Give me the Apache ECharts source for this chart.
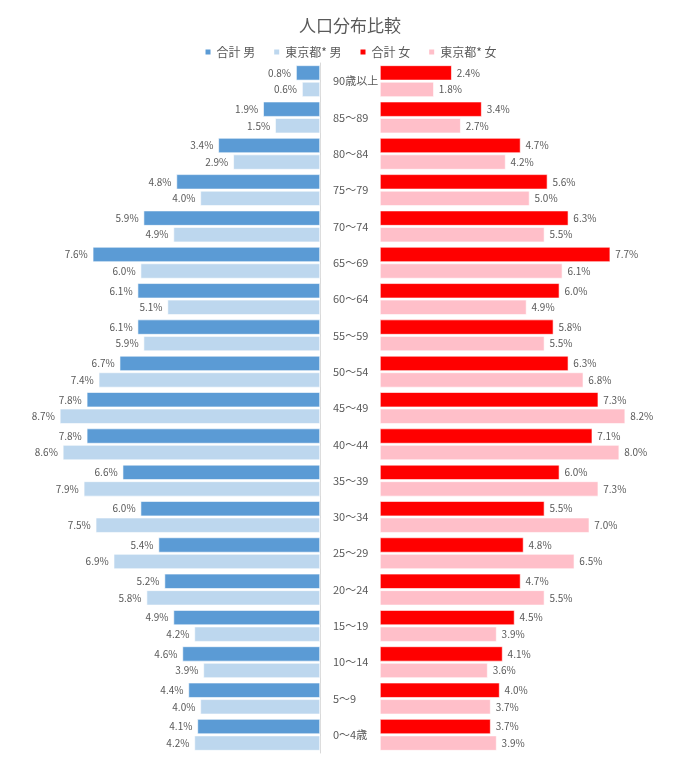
<!DOCTYPE html>
<html>
<head>
    <meta charset="utf-8">
    <title>人口分布比較</title>
    <script type="text/javascript" src="https://cdn.jsdelivr.net/npm/echarts@6/dist/echarts.min.js"></script>
    <style>
        html, body { margin: 0; padding: 0; background: #fff; }
    </style>
</head>
<body>
<div id="pyramid" style="width: 700px; height: 775px;"></div>
<script type="text/javascript">
    var ageGroups = ['90歳以上', '85～89', '80～84', '75～79', '70～74', '65～69', '60～64',
        '55～59', '50～54', '45～49', '40～44', '35～39', '30～34', '25～29',
        '20～24', '15～19', '10～14', '5～9', '0～4歳'];
    var maleTotal = [0.8, 1.9, 3.4, 4.8, 5.9, 7.6, 6.1, 6.1, 6.7, 7.8, 7.8, 6.6, 6.0, 5.4, 5.2, 4.9, 4.6, 4.4, 4.1];
    var maleTokyo = [0.6, 1.5, 2.9, 4.0, 4.9, 6.0, 5.1, 5.9, 7.4, 8.7, 8.6, 7.9, 7.5, 6.9, 5.8, 4.2, 3.9, 4.0, 4.2];
    var femaleTotal = [2.4, 3.4, 4.7, 5.6, 6.3, 7.7, 6.0, 5.8, 6.3, 7.3, 7.1, 6.0, 5.5, 4.8, 4.7, 4.5, 4.1, 4.0, 3.7];
    var femaleTokyo = [1.8, 2.7, 4.2, 5.0, 5.5, 6.1, 4.9, 5.5, 6.8, 8.2, 8.0, 7.3, 7.0, 6.5, 5.5, 3.9, 3.6, 3.7, 3.9];

    var font = '"Noto Sans CJK JP", "Noto Sans", sans-serif';
    var grey = '#595959';

    function pct(p) {
        return p.value.toFixed(1) + '%';
    }

    function barSeries(name, data, side, color) {
        return {
            name: name,
            type: 'bar',
            xAxisIndex: side,
            yAxisIndex: side,
            data: data,
            barCategoryGap: '13%',
            barGap: '10%',
            itemStyle: { color: color, borderColor: '#fff', borderWidth: 0.6 },
            label: {
                show: true,
                position: side === 0 ? 'left' : 'right',
                distance: 5,
                formatter: pct,
                color: grey,
                fontSize: 10,
                fontFamily: font
            }
        };
    }

    var chart = echarts.init(document.getElementById('pyramid'));
    var option = {
        animation: false,
        textStyle: { fontFamily: font },
        title: {
            text: '人口分布比較',
            left: 'center',
            top: 12,
            textStyle: { fontSize: 17, fontWeight: 'normal', color: grey, fontFamily: font }
        },
        legend: {
            top: 41,
            left: 'center',
            icon: 'rect',
            itemWidth: 7,
            itemHeight: 7,
            itemGap: 17,
            textStyle: { fontSize: 12, color: grey, fontFamily: font },
            data: ['合計 男', '東京都* 男', '合計 女', '東京都* 女']
        },
        grid: [
            { left: 21, width: 299, top: 63, height: 690 },
            { left: 380, width: 299, top: 63, height: 690 }
        ],
        xAxis: [
            {
                gridIndex: 0, type: 'value', min: 0, max: 10, inverse: true,
                axisLine: { show: false }, axisTick: { show: false },
                axisLabel: { show: false }, splitLine: { show: false }
            },
            {
                gridIndex: 1, type: 'value', min: 0, max: 10,
                axisLine: { show: false }, axisTick: { show: false },
                axisLabel: { show: false }, splitLine: { show: false }
            }
        ],
        yAxis: [
            {
                gridIndex: 0, type: 'category', data: ageGroups, inverse: true, position: 'right',
                axisLine: { show: true, lineStyle: { color: '#D9D9D9' } },
                axisTick: { show: false }, axisLabel: { show: false }
            },
            {
                gridIndex: 1, type: 'category', data: ageGroups, inverse: true, position: 'left',
                axisLine: { show: false }, axisTick: { show: false },
                axisLabel: { align: 'left', margin: 47, fontSize: 11, color: grey, fontFamily: font }
            }
        ],
        series: [
            barSeries('合計 男', maleTotal, 0, '#5B9BD5'),
            barSeries('東京都* 男', maleTokyo, 0, '#BDD7EE'),
            barSeries('合計 女', femaleTotal, 1, '#FF0000'),
            barSeries('東京都* 女', femaleTokyo, 1, '#FFBFC9')
        ]
    };
    chart.setOption(option);
</script>
</body>
</html>
